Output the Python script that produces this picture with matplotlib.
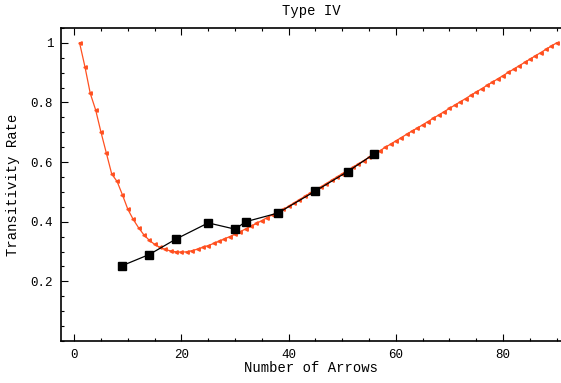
import matplotlib
matplotlib.use("Agg")
import matplotlib.pyplot as plt
from matplotlib.ticker import MultipleLocator, FixedLocator

# measured transitivity rate vs. number of arrows
arrows_measured = [9, 14, 19, 25, 30, 32, 38, 45, 51, 56]
rate_measured = [0.253, 0.290, 0.342, 0.396, 0.375, 0.400, 0.429, 0.503, 0.568, 0.628]

# model curve, one value per arrow count 1..90
arrows_model = list(range(1, 91))
rate_model = [
    1.000, 0.920, 0.830, 0.775, 0.700, 0.630, 0.560, 0.535, 0.490, 0.442,
    0.408, 0.380, 0.356, 0.338, 0.324, 0.314, 0.307, 0.302, 0.299, 0.298,
    0.299, 0.303, 0.308, 0.314, 0.320, 0.327, 0.334, 0.342, 0.350, 0.358,
    0.367, 0.376, 0.385, 0.394, 0.404, 0.414, 0.424, 0.430, 0.441, 0.452,
    0.463, 0.474, 0.485, 0.496, 0.506, 0.517, 0.528, 0.539, 0.550, 0.561,
    0.572, 0.583, 0.594, 0.605, 0.616, 0.627, 0.638, 0.649, 0.660, 0.671,
    0.682, 0.693, 0.704, 0.714, 0.725, 0.736, 0.747, 0.758, 0.769, 0.780,
    0.791, 0.802, 0.813, 0.824, 0.835, 0.846, 0.857, 0.868, 0.879, 0.890,
    0.901, 0.912, 0.923, 0.934, 0.945, 0.956, 0.967, 0.978, 0.989, 1.000,
]

x_ticks = [0, 20, 40, 60, 80]
y_ticks = [0.2, 0.4, 0.6, 0.8, 1.0]
y_tick_labels = ["0.2", "0.4", "0.6", "0.8", "1"]

mono = "Liberation Mono"
orange = "#ff5020"

fig = plt.figure(figsize=(5.61, 3.83), dpi=100)
ax = fig.add_axes([0.1096, 0.1097, 0.8904, 0.8175])

ax.plot(arrows_model, rate_model, color=orange, lw=0.9,
        marker="<", ms=2.5, mec=orange, mfc=orange, zorder=2)
ax.plot(arrows_measured, rate_measured, color="black", lw=0.9,
        marker="s", ms=5.5, mfc="black", mec="black", zorder=3)

ax.set_xlim(-2.37, 90.8)
ax.set_ylim(0, 1.05)

ax.xaxis.set_major_locator(FixedLocator(x_ticks))
ax.xaxis.set_minor_locator(MultipleLocator(5))
ax.set_yticks(y_ticks)
ax.set_yticklabels(y_tick_labels)
ax.yaxis.set_minor_locator(MultipleLocator(0.05))

ax.tick_params(which="both", direction="in", top=True, right=False,
               width=0.8, labelsize=9)
ax.tick_params(which="major", length=5)
ax.tick_params(which="minor", length=2.5)
for lab in ax.get_xticklabels() + ax.get_yticklabels():
    lab.set_family(mono)
ax.tick_params(axis="x", pad=6)
ax.tick_params(axis="y", pad=6)

ax.spines["right"].set_visible(False)
for s in ["left", "top", "bottom"]:
    ax.spines[s].set_linewidth(1.2)

ax.set_xlabel("Number of Arrows", family=mono, fontsize=10, labelpad=0)
ax.set_ylabel("Transitivity Rate", family=mono, fontsize=10, labelpad=8)
ax.set_title("Type IV", family=mono, fontsize=10, pad=9)

fig.savefig("out.png", dpi=100)
